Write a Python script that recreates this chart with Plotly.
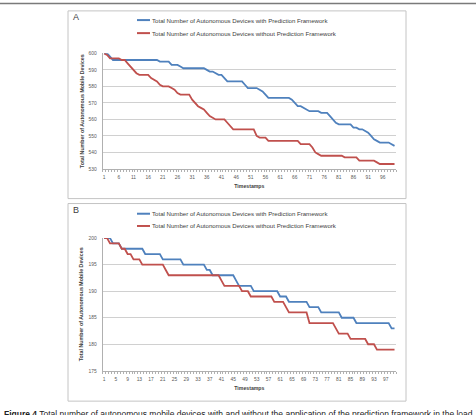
import plotly.graph_objects as go

W, H = 476, 415

timestamps = list(range(1, 101))

a_with = [600, 600, 598, 596, 596, 596, 596, 596, 596, 596, 596, 596, 596, 596, 596, 596, 596, 596, 596,
          595, 595, 595, 595, 593, 593, 593, 592,
          591, 591, 591, 591, 591, 591, 591, 591, 590, 589, 589, 588, 587, 587, 585,
          583, 583, 583, 583, 583, 583, 581, 579, 579, 579, 579, 578, 577, 575,
          573, 573, 573, 573, 573, 573, 573, 573, 572, 570, 568, 568, 567, 566,
          565, 565, 565, 565, 564, 564, 564, 562, 560, 558, 557, 557, 557, 557, 557,
          555, 555, 554, 554, 553, 552, 550, 548, 547, 546, 546, 546, 546, 545, 544]

a_without = [600, 599, 597, 597, 597, 597, 596, 596, 594, 592, 590, 588, 587, 587, 587, 587,
             585, 584, 583, 581, 580, 580, 580, 579, 578, 576, 575, 575, 575, 575,
             572, 570, 568, 567, 566, 564, 562, 561, 560, 560, 560, 560, 558, 556,
             554, 554, 554, 554, 554, 554, 554, 554, 550, 549, 549, 549,
             547, 547, 547, 547, 547, 547, 547, 547, 547, 547, 547, 545, 545, 545, 545,
             543, 540, 539, 538, 538, 538, 538, 538, 538, 538, 538, 537, 537, 537, 537, 537,
             535, 535, 535, 535, 535, 535, 534, 533, 533, 533, 533, 533, 533]

b_with = [200, 200, 200, 199, 199, 199, 198, 198, 198, 198, 198, 198, 198, 198,
          197, 197, 197, 197, 197, 197, 196, 196, 196, 196, 196, 196, 196,
          195, 195, 195, 195, 195, 195, 195, 195, 194, 194, 193, 193, 193, 193, 193, 193, 193, 193,
          192, 191, 191, 191, 191, 191, 190, 190, 190, 190, 190, 190, 190, 190, 190,
          189, 189, 189, 188, 188, 188, 188, 188, 188, 188, 187, 187, 187, 187,
          186, 186, 186, 186, 186, 186, 186, 185, 185, 185, 185, 185,
          184, 184, 184, 184, 184, 184, 184, 184, 184, 184, 184, 184, 183, 183]

b_without = [200, 200, 199, 199, 199, 199, 198, 198, 197, 197, 196, 196, 196,
             195, 195, 195, 195, 195, 195, 195, 195, 194,
             193, 193, 193, 193, 193, 193, 193, 193, 193, 193, 193, 193, 193, 193, 193, 193, 193, 193,
             192, 191, 191, 191, 191, 191, 191, 190, 190, 190,
             189, 189, 189, 189, 189, 189, 189, 189, 188, 188, 188, 188, 187,
             186, 186, 186, 186, 186, 186, 186, 184, 184, 184, 184, 184, 184, 184, 184, 184,
             183, 182, 182, 182, 182, 181, 181, 181, 181, 181, 181, 180, 180, 180,
             179, 179, 179, 179, 179, 179, 179]

series_names = ["Total Number of Autonomous Devices with Prediction Framework",
                "Total Number of Autonomous Devices without Prediction Framework"]
series_colors = ["#4F81BD", "#C0504D"]

a_ticks = [1, 6, 11, 16, 21, 26, 31, 36, 41, 46, 51, 56, 61, 66, 71, 76, 81, 86, 91, 96]
b_ticks = [1, 5, 9, 13, 17, 21, 25, 29, 33, 37, 41, 45, 49, 53, 57, 61, 65, 69, 73, 77, 81, 85, 89, 93, 97]
a_yrange = [530, 600]
b_yrange = [175, 200]

y_title = "Total Number of Autonomous Mobile Devices"
x_title = "Timestamps"
caption = ("<b>Figure 4</b> Total number of autonomous mobile devices with and without the "
           "application of the prediction framework in the load")


def fx(px):
    return px / W


def fy(py):
    return 1 - py / H


FONT = "Liberation Sans"
TICKC = "#595959"
TITLEC = "#404040"

fig = go.Figure()
for vals, name, col in zip([a_with, a_without], series_names, series_colors):
    fig.add_trace(go.Scatter(x=timestamps, y=vals, mode="lines", name=name,
                             line=dict(color=col, width=1.8), xaxis="x", yaxis="y",
                             showlegend=False))
for vals, name, col in zip([b_with, b_without], series_names, series_colors):
    fig.add_trace(go.Scatter(x=timestamps, y=vals, mode="lines", name=name,
                             line=dict(color=col, width=1.8), xaxis="x2", yaxis="y2",
                             showlegend=False))

xdom = [fx(102.7), fx(396)]


def xaxis_cfg(ticks, anchor):
    return dict(domain=xdom, anchor=anchor, range=[0.5, 100.5], tickmode="array",
                tickvals=ticks, ticktext=[str(v) for v in ticks], ticks="",
                showgrid=False, zeroline=False, showline=True, linecolor="#b0b0b0", linewidth=1,
                tickfont=dict(family=FONT, size=4.9, color=TICKC), ticklabelstandoff=3,
                minor=dict(ticks="outside", ticklen=2, tickcolor="#b0b0b0", tick0=0.5, dtick=1,
                           showgrid=False),
                title=dict(text="<b>%s</b>" % x_title, standoff=5,
                           font=dict(family=FONT, size=5.2, color=TITLEC)))


def yaxis_cfg(rng, dtick, dom, anchor):
    return dict(domain=dom, anchor=anchor, range=rng, dtick=dtick, ticks="",
                showgrid=True, gridcolor="#d0d0d0", gridwidth=1, zeroline=False,
                showline=True, linecolor="#b0b0b0", linewidth=1,
                tickfont=dict(family=FONT, size=4.9, color=TICKC), ticklabelstandoff=4,
                title=dict(text=""))


fig.update_layout(
    width=W, height=H, margin=dict(l=0, r=0, t=0, b=0),
    paper_bgcolor="white", plot_bgcolor="white",
    xaxis=xaxis_cfg(a_ticks, "y"),
    yaxis=yaxis_cfg(a_yrange, 10, [fy(169), fy(52)], "x"),
    xaxis2=xaxis_cfg(b_ticks, "y2"),
    yaxis2=yaxis_cfg(b_yrange, 5, [fy(373.3), fy(239)], "x2"),
)

shapes = [
    dict(type="line", xref="paper", yref="paper", x0=0, x1=1, y0=fy(1.5), y1=fy(1.5),
         line=dict(color="#7a7a7a", width=1.5)),
    dict(type="rect", xref="paper", yref="paper", x0=fx(68), x1=fx(406), y0=fy(199), y1=fy(9),
         line=dict(color="#c4c4c4", width=1)),
    dict(type="rect", xref="paper", yref="paper", x0=fx(68), x1=fx(406), y0=fy(404), y1=fy(204),
         line=dict(color="#c4c4c4", width=1)),
]
annotations = [
    dict(text="A", xref="paper", yref="paper", x=fx(71), y=fy(15), xanchor="left", yanchor="middle",
         showarrow=False, font=dict(family=FONT, size=9, color=TITLEC)),
    dict(text="B", xref="paper", yref="paper", x=fx(71), y=fy(211), xanchor="left", yanchor="middle",
         showarrow=False, font=dict(family=FONT, size=9, color=TITLEC)),
    dict(text=caption, xref="paper", yref="paper", x=fx(2), y=fy(410), xanchor="left", yanchor="top",
         showarrow=False, font=dict(family=FONT, size=8.5, color="#222222")),
    # y-axis titles
    dict(text="<b>%s</b>" % y_title, xref="paper", yref="paper", x=fx(82), y=fy(110.5),
         xanchor="center", yanchor="middle", textangle=-90, showarrow=False,
         font=dict(family=FONT, size=5.3, color=TITLEC)),
    dict(text="<b>%s</b>" % y_title, xref="paper", yref="paper", x=fx(81), y=fy(306),
         xanchor="center", yanchor="middle", textangle=-90, showarrow=False,
         font=dict(family=FONT, size=5.3, color=TITLEC)),
]
for legy in ([18.3, 31.5], [214.3, 226.7]):
    for ly, name, col in zip(legy, series_names, series_colors):
        shapes.append(dict(type="line", xref="paper", yref="paper", x0=fx(137), x1=fx(150),
                           y0=fy(ly), y1=fy(ly), line=dict(color=col, width=2)))
        annotations.append(dict(text=name, xref="paper", yref="paper", x=fx(150), y=fy(ly),
                                xanchor="left", yanchor="middle", showarrow=False,
                                font=dict(family=FONT, size=6.1, color=TITLEC)))
fig.update_layout(shapes=shapes, annotations=annotations)

fig.write_html("out.html")
